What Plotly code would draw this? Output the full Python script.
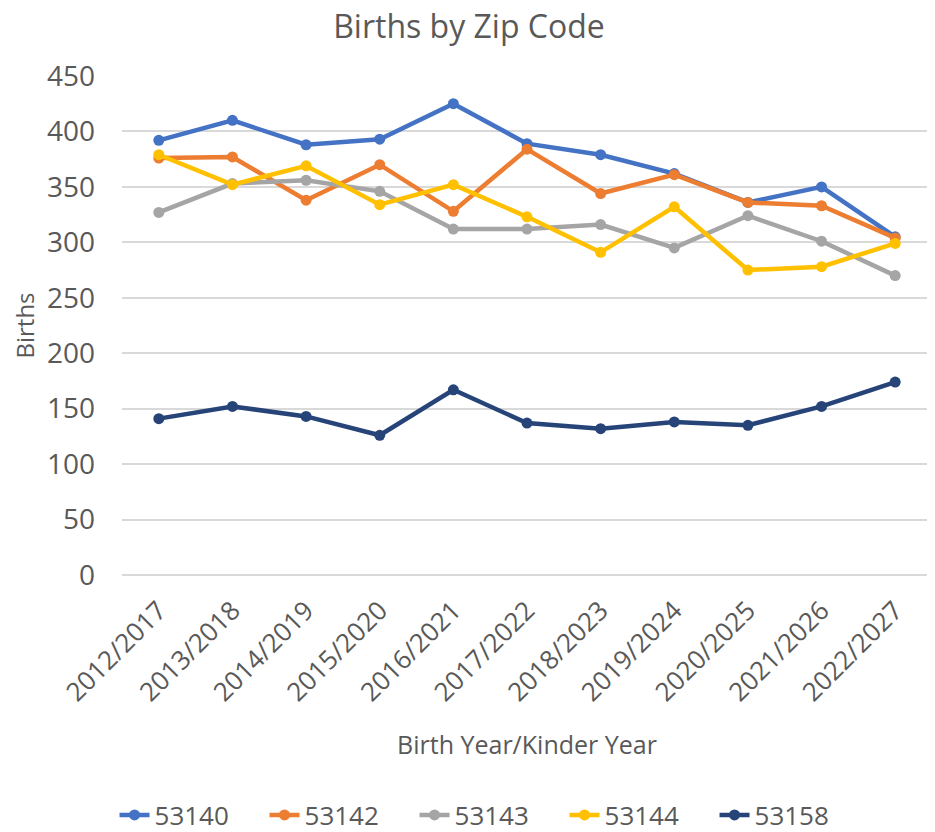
import plotly.graph_objects as go

# 출생 연도 / 유치원 입학 연도
categories = ["2012/2017", "2013/2018", "2014/2019", "2015/2020", "2016/2021",
              "2017/2022", "2018/2023", "2019/2024", "2020/2025", "2021/2026",
              "2022/2027"]

zip_53140 = [392, 410, 388, 393, 425, 389, 379, 362, 336, 350, 305]
zip_53142 = [376, 377, 338, 370, 328, 384, 344, 361, 336, 333, 304]
zip_53143 = [327, 353, 356, 346, 312, 312, 316, 295, 324, 301, 270]
zip_53144 = [379, 352, 369, 334, 352, 323, 291, 332, 275, 278, 299]
zip_53158 = [141, 152, 143, 126, 167, 137, 132, 138, 135, 152, 174]

series = [
    ("53140", zip_53140, "#4472C4"),
    ("53142", zip_53142, "#ED7D31"),
    ("53143", zip_53143, "#A5A5A5"),
    ("53144", zip_53144, "#FFC000"),
    ("53158", zip_53158, "#264478"),
]

FONT = "Open Sans, sans-serif"
TXT = "#595959"

fig = go.Figure()
for name, vals, color in series:
    fig.add_trace(go.Scatter(
        x=categories, y=vals, name=name, mode="lines+markers",
        line=dict(color=color, width=4.5),
        marker=dict(color=color, size=11),
    ))

# 페이지 body 기본 여백(8px) 만큼 보정
fig.update_layout(
    width=935, height=832,
    paper_bgcolor="white", plot_bgcolor="white",
    margin=dict(l=114, r=11, t=68, b=265, autoexpand=False),
    font=dict(family=FONT, color=TXT),
    title=dict(text="Births by Zip Code", xref="container", x=0.493, xanchor="center",
               yref="container", y=0.978, yanchor="middle", font=dict(size=32, color=TXT)),
    showlegend=True,
    legend=dict(orientation="h", xref="container", x=0.515, xanchor="center",
                yref="container", y=0.03, yanchor="middle",
                font=dict(size=26, color=TXT), entrywidth=105, traceorder="normal"),
)

fig.update_xaxes(
    type="category", range=[-0.5, 10.5], automargin=False,
    tickangle=-45, tickfont=dict(size=26, color=TXT), ticklabelstandoff=14,
    showgrid=False, showline=False, zeroline=False, ticks="",
    title=dict(text="Birth Year/Kinder Year", font=dict(size=25, color=TXT), standoff=28),
)
fig.update_yaxes(
    range=[0, 450], dtick=50, automargin=False, tickfont=dict(size=28, color=TXT),
    showgrid=True, gridcolor="#D9D9D9", gridwidth=2,
    zeroline=True, zerolinecolor="#D9D9D9", zerolinewidth=2,
    showline=False, ticks="", ticklabelstandoff=26,
    title=dict(text="Births", font=dict(size=24, color=TXT), standoff=17),
)

fig.write_html("out.html")
